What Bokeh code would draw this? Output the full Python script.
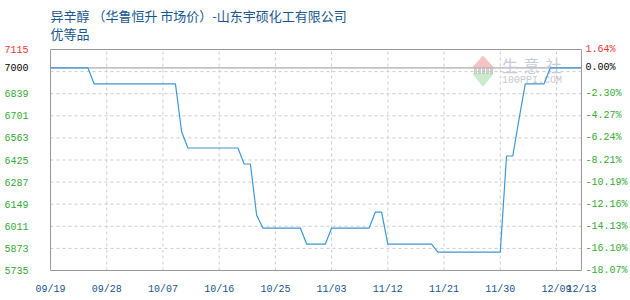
import pandas as pd
from bokeh.plotting import figure
from bokeh.models import FixedTicker, LinearAxis, Range1d
from bokeh.core.properties import value
from bokeh.embed import file_html
from bokeh.resources import INLINE

# Daily quoted price, 09/19 .. 12/13
dates = pd.date_range("2019-09-19", "2019-12-13", freq="D")
prices = [
    7000, 7000, 7000, 7000, 7000, 7000, 7000,
    6900, 6900, 6900, 6900, 6900, 6900, 6900, 6900, 6900, 6900, 6900, 6900, 6900, 6900,
    6600,
    6500, 6500, 6500, 6500, 6500, 6500, 6500, 6500, 6500,
    6400, 6400,
    6080,
    6000, 6000, 6000, 6000, 6000, 6000, 6000,
    5900, 5900, 5900, 5900,
    6000, 6000, 6000, 6000, 6000, 6000, 6000,
    6100, 6100,
    5900, 5900, 5900, 5900, 5900, 5900, 5900, 5900,
    5850, 5850, 5850, 5850, 5850, 5850, 5850, 5850, 5850, 5850, 5850,
    6450, 6450,
    6680,
    6900, 6900, 6900, 6900,
    7000, 7000, 7000, 7000, 7000, 7000,
]
base_price = 7000
y_ticks = [7115, 6977, 6839, 6701, 6563, 6425, 6287, 6149, 6011, 5873, 5735]
x_tick_labels = ["09/19", "09/28", "10/07", "10/16", "10/25", "11/03",
                 "11/12", "11/21", "11/30", "12/09", "12/13"]

title_main = "异辛醇 （华鲁恒升 市场价）-山东宇硕化工有限公司"
title_sub = "优等品"

days = [(d - dates[0]).days for d in dates]
tick_days = [(pd.Timestamp(f"2019-{s.replace('/', '-')}") - dates[0]).days for s in x_tick_labels]

GREEN = "#33aa33"
RED = "#ee3333"
BLACK = "#000000"
BLUE_TXT = "#17558c"
FRAME = "#999999"
GRID = "#cccccc"
MONO = "Liberation Mono"
CJK = "Noto Sans CJK SC"

# canvas and the boxed price area inside it (pixels from the top-left corner)
W, H = 630, 300
BOX_L, BOX_R, BOX_T, BOX_B = 50, 581, 49, 270

x0, x1 = days[0], days[-1]
y0, y1 = y_ticks[-1], y_ticks[0]
sx = (BOX_R - BOX_L) / (x1 - x0)
sy = (BOX_B - BOX_T) / (y1 - y0)
x_range = Range1d(x0 - BOX_L / sx, x1 + (W - BOX_R) / sx)
y_range = Range1d(y0 - (H - BOX_B) / sy, y1 + BOX_T / sy)


def px(x):
    """canvas pixel column -> x data value"""
    return x_range.start + x / sx


def py(y):
    """canvas pixel row -> y data value"""
    return y_range.end - y / sy


p = figure(width=W, height=H, x_range=x_range, y_range=y_range,
           x_axis_location=None, y_axis_location=None,
           output_backend="svg", toolbar_location=None, title=None, min_border=0)
p.background_fill_color = "white"
p.border_fill_color = "white"
p.outline_line_color = None
p.grid.visible = False


def add_axis(side, ticks, labels, color, standoff, loc):
    ax = LinearAxis(ticker=FixedTicker(ticks=ticks), fixed_location=loc,
                    major_label_overrides=dict(zip(ticks, labels)))
    ax.axis_line_color = None
    ax.major_tick_line_color = None
    ax.minor_tick_line_color = None
    ax.major_tick_out = 0
    ax.major_tick_in = 0
    ax.minor_tick_out = 0
    ax.minor_tick_in = 0
    ax.major_label_standoff = standoff
    ax.major_label_text_font = MONO
    ax.major_label_text_font_size = "10px"
    ax.major_label_text_color = color
    p.add_layout(ax, side)


def pct(v):
    return f"{(v - base_price) / base_price * 100:.2f}%"


# dashed grid
p.segment(x0=tick_days, y0=[y0] * len(tick_days), x1=tick_days, y1=[y1] * len(tick_days),
          line_color=GRID, line_dash="3 3", line_width=1)
p.segment(x0=[x0] * len(y_ticks), y0=y_ticks, x1=[x1] * len(y_ticks), y1=y_ticks,
          line_color=GRID, line_dash="3 3", line_width=1)
# base price line and box
p.segment(x0=[x0], y0=[base_price], x1=[x1], y1=[base_price], line_color=FRAME, line_width=1)
p.quad(left=[x0], right=[x1], bottom=[y0], top=[y1], fill_color=None,
       line_color=FRAME, line_width=1)

# date axis under the box
add_axis("below", tick_days, x_tick_labels, BLUE_TXT, 13, y0)

# price axes: top tick red, base price black, the rest green
groups = [([y_ticks[0]], RED), ([base_price], BLACK), (y_ticks[2:], GREEN)]
for ticks, color in groups:
    add_axis("left", ticks, [str(v) for v in ticks], color, 22, x0)
    add_axis("right", ticks, [pct(v) for v in ticks], color, 4, x1)

# title
p.text(x=[px(BOX_L), px(BOX_L)], y=[py(15), py(33)], text=[title_main, title_sub],
       text_font=value(CJK), text_font_size="13px", text_color=BLUE_TXT,
       text_baseline="middle")

# 100PPI watermark in the upper right corner
p.patch([px(472.5), px(492.5), px(482.5)], [py(66.7), py(66.7), py(55.7)],
        color="#f4b4b4", alpha=0.8)
p.patch([px(472.5), px(492.5), px(482.5)], [py(73.3), py(73.3), py(85.7)],
        color="#bfe6bf", alpha=0.8)
p.quad(left=[px(c) for c in (474, 478, 482, 486, 490)],
       right=[px(c + 2) for c in (474, 478, 482, 486, 490)],
       bottom=py(73), top=py(67), color="#b8b8b8", alpha=0.6)
p.text(x=[px(501.5), px(523), px(545)], y=[py(64)] * 3, text=["生", "意", "社"],
       text_font=value(CJK), text_font_size="16px", text_color="#c6cbdb",
       text_baseline="middle")
p.text(x=[px(501.5)], y=[py(80)], text=["100PPI.COM"], text_font=value(MONO),
       text_font_size="10px", text_color="#c8c8c8", text_baseline="middle")

p.line(days, prices, line_color="#3b98d6", line_width=1.2)

open("out.html", "w").write(file_html(p, INLINE))
